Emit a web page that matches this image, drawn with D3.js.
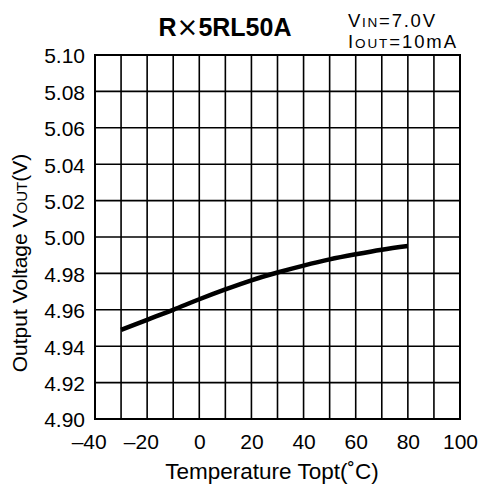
<!DOCTYPE html>
<html><head><meta charset="utf-8">
<script src="https://cdn.jsdelivr.net/npm/d3@7/dist/d3.min.js"></script>
<style>body{margin:0;background:#fff}svg{display:block}text{font-family:"Liberation Sans",Arial,sans-serif;fill:#000}</style>
</head><body><svg id="c" width="480" height="488"></svg>
<script>
const temps = [-30, -20, -10, 0, 10, 20, 30, 40, 50, 60, 70, 80];
const vout  = [4.9490, 4.9545, 4.9600, 4.9658, 4.9712, 4.9762, 4.9805, 4.9843, 4.9877, 4.9905, 4.9930, 4.9950];
const xTicks = [-40, -20, 0, 20, 40, 60, 80, 100];
const yTicks = [4.90, 4.92, 4.94, 4.96, 4.98, 5.00, 5.02, 5.04, 5.06, 5.08, 5.10];
const xGrid = d3.range(-40, 101, 10);

const svg = d3.select("#c");
const L = 95, R = 460, T = 55, B = 419;
const x = d3.scaleLinear().domain([-40, 100]).range([L, R]);
const y = d3.scaleLinear().domain([4.90, 5.10]).range([B, T]);

// grid
svg.append("g").selectAll("line").data(xGrid).join("line")
  .attr("x1", d => x(d)).attr("x2", d => x(d)).attr("y1", T).attr("y2", B)
  .attr("stroke", "#000").attr("stroke-width", 1.6);
svg.append("g").selectAll("line").data(yTicks).join("line")
  .attr("x1", L).attr("x2", R).attr("y1", d => y(d)).attr("y2", d => y(d))
  .attr("stroke", "#000").attr("stroke-width", 1.6);
svg.append("rect").attr("x", L).attr("y", T).attr("width", R - L).attr("height", B - T)
  .attr("fill", "none").attr("stroke", "#000").attr("stroke-width", 2);

// axes labels
const yAx = svg.append("g").attr("transform", `translate(${L},0)`)
  .call(d3.axisLeft(y).tickValues(yTicks).tickFormat(d3.format(".2f")).tickSize(0).tickPadding(10));
yAx.select(".domain").remove();
yAx.selectAll("text").attr("font-size", 21).style("font-family", "Liberation Sans, Arial, sans-serif")
  .attr("dy", "0.38em");

const xAx = svg.append("g").attr("transform", `translate(0,${B})`)
  .call(d3.axisBottom(x).tickValues(xTicks).tickFormat(d => d < 0 ? "\u2013" + Math.abs(d) : d).tickSize(0).tickPadding(15));
xAx.select(".domain").remove();
xAx.selectAll("text").attr("font-size", 21).style("font-family", "Liberation Sans, Arial, sans-serif")
  .attr("dx", d => d < 0 ? "-0.3em" : 0);

// curve
svg.append("path").datum(temps.map((t, i) => [t, vout[i]]))
  .attr("fill", "none").attr("stroke", "#000").attr("stroke-width", 4.5)
  .attr("d", d3.line().x(d => x(d[0])).y(d => y(d[1])).curve(d3.curveMonotoneX));

// title
const tt = svg.append("text").attr("x", 225).attr("y", 36).attr("text-anchor", "middle")
  .attr("font-size", 25).attr("font-weight", "bold");
tt.append("tspan").text("R");
tt.append("tspan").attr("font-weight", "normal").style("font-family", "DejaVu Sans").attr("font-size", 26).text("\u00D7");
tt.append("tspan").text("5RL50A");

const a1 = svg.append("text").attr("x", 348).attr("y", 26.5).attr("font-size", 18.5)
  .attr("textLength", 87).attr("lengthAdjust", "spacing");
a1.append("tspan").text("V");
a1.append("tspan").attr("font-size", 13.5).text("IN");
a1.append("tspan").text("=7.0V");
const a2 = svg.append("text").attr("x", 348).attr("y", 47.5).attr("font-size", 18.5)
  .attr("textLength", 108).attr("lengthAdjust", "spacing");
a2.append("tspan").text("I");
a2.append("tspan").attr("font-size", 13.5).text("OUT");
a2.append("tspan").text("=10mA");

// axis titles
svg.append("text").attr("x", 272).attr("y", 479).attr("text-anchor", "middle")
  .attr("font-size", 22.5).text("Temperature Topt(\u02DAC)");
const yl = svg.append("text").attr("transform", "translate(27,263) rotate(-90)")
  .attr("text-anchor", "middle").attr("font-size", 21);
yl.append("tspan").text("Output Voltage V");
yl.append("tspan").attr("font-size", 15).text("OUT");
yl.append("tspan").text("(V)");
</script></body></html>
